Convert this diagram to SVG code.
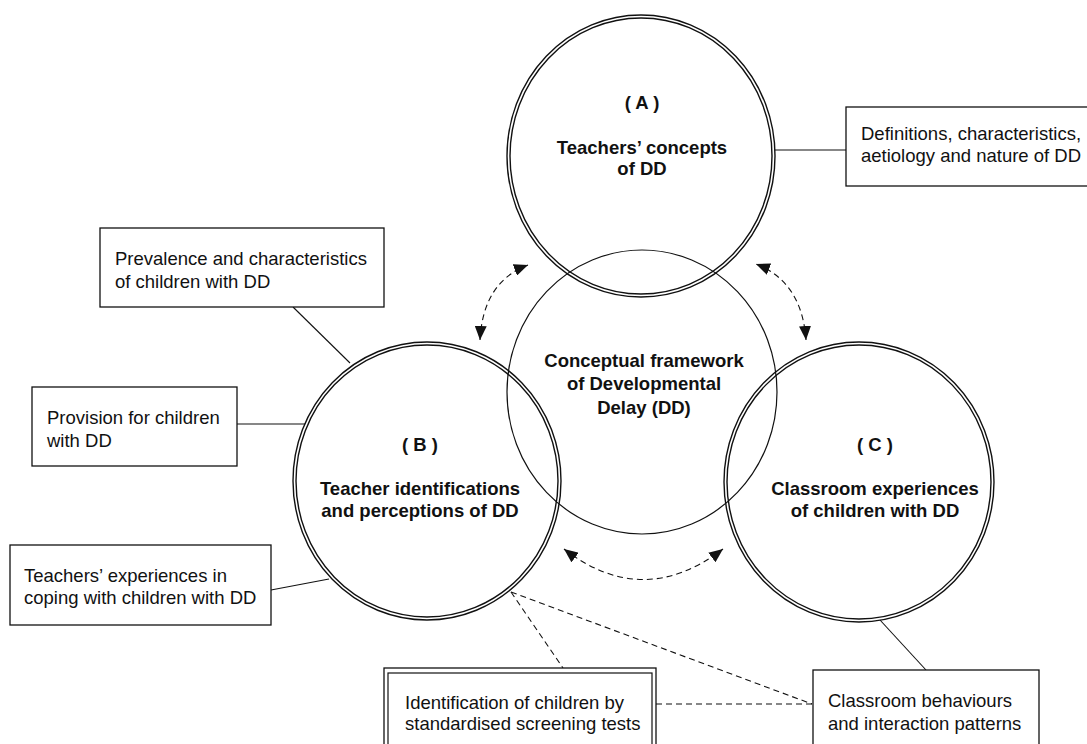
<svg xmlns="http://www.w3.org/2000/svg" width="1087" height="744" viewBox="0 0 1087 744">
<style>
.ring{fill:none;stroke:#111;stroke-width:1.4}
.thin{fill:none;stroke:#111;stroke-width:1.2}
.box{fill:#fff;stroke:#111;stroke-width:1.3}
.ln{fill:none;stroke:#111;stroke-width:1.1}
.dash{fill:none;stroke:#111;stroke-width:1.1;stroke-dasharray:6 4}
.b{font-family:"Liberation Sans",Arial,sans-serif;font-weight:bold;font-size:18.5px;fill:#111;text-anchor:middle}
.r{font-family:"Liberation Sans",Arial,sans-serif;font-size:18.5px;fill:#111}
</style>
<defs>
<marker id="ah" viewBox="0 0 14 12" refX="14" refY="6" markerWidth="14" markerHeight="12" markerUnits="userSpaceOnUse" orient="auto-start-reverse">
<path d="M0,0 L14,6 L0,12 z" fill="#111"/>
</marker>
</defs>
<rect width="1087" height="744" fill="#fff"/>
<g id="connectors">
<line class="ln" x1="775" y1="150" x2="846" y2="150"/>
<line class="ln" x1="293" y1="307" x2="350" y2="363"/>
<line class="ln" x1="237" y1="424" x2="305" y2="424"/>
<line class="ln" x1="271" y1="590" x2="329" y2="579"/>
<line class="ln" x1="880" y1="620" x2="926" y2="670"/>
<line class="dash" x1="511" y1="592" x2="563" y2="668"/>
<line class="dash" x1="511" y1="592" x2="812" y2="704"/>
<line class="dash" x1="656" y1="704" x2="813" y2="704"/>
<path class="dash" d="M480,340 Q483,282 528,265" marker-start="url(#ah)" marker-end="url(#ah)"/>
<path class="dash" d="M806,340 Q802,282 756,264" marker-start="url(#ah)" marker-end="url(#ah)"/>
<path class="dash" d="M564,549 Q643,610 723,549" marker-start="url(#ah)" marker-end="url(#ah)"/>
</g>
<g id="center">
<ellipse class="thin" cx="642" cy="392" rx="135" ry="142"/>
<text class="b" x="644" y="366.5">Conceptual framework</text>
<text class="b" x="644" y="390">of Developmental</text>
<text class="b" x="644" y="413.5">Delay (DD)</text>
</g>
<g id="circleA">
<ellipse class="ring" cx="641" cy="156" rx="134" ry="141"/>
<ellipse class="ring" cx="641" cy="156" rx="131" ry="138"/>
<text class="b" x="642" y="108.5">( A )</text>
<text class="b" x="642" y="153.5">Teachers’ concepts</text>
<text class="b" x="642" y="174.5">of DD</text>
</g>
<g id="circleB">
<ellipse class="ring" cx="427" cy="481" rx="134" ry="139"/>
<ellipse class="ring" cx="427" cy="481" rx="131" ry="136"/>
<text class="b" x="420" y="450.5">( B )</text>
<text class="b" x="420" y="494.5">Teacher identifications</text>
<text class="b" x="420" y="516.5">and perceptions of DD</text>
</g>
<g id="circleC">
<ellipse class="ring" cx="859" cy="482" rx="135" ry="140"/>
<ellipse class="ring" cx="859" cy="482" rx="132" ry="137"/>
<text class="b" x="875" y="450.5">( C )</text>
<text class="b" x="875" y="494.5">Classroom experiences</text>
<text class="b" x="875" y="516.5">of children with DD</text>
</g>
<g id="boxDefinitions">
<rect class="box" x="846" y="107" width="250" height="79"/>
<text class="r" x="861" y="139.5">Definitions, characteristics,</text>
<text class="r" x="861" y="161.5">aetiology and nature of DD</text>
</g>
<g id="boxPrevalence">
<rect class="box" x="100" y="228" width="284" height="79"/>
<text class="r" x="115" y="264.5">Prevalence and characteristics</text>
<text class="r" x="115" y="287.5">of children with DD</text>
</g>
<g id="boxProvision">
<rect class="box" x="32" y="387" width="205" height="79"/>
<text class="r" x="47" y="423.5">Provision for children</text>
<text class="r" x="47" y="446.5">with DD</text>
</g>
<g id="boxExperiences">
<rect class="box" x="10" y="545" width="261" height="80"/>
<text class="r" x="24" y="581.5">Teachers’ experiences in</text>
<text class="r" x="24" y="603.5">coping with children with DD</text>
</g>
<g id="boxIdentification">
<rect class="box" x="384" y="668" width="272" height="90"/>
<rect class="thin" x="388" y="673" width="264" height="90"/>
<text class="r" x="405" y="708.5">Identification of children by</text>
<text class="r" x="405" y="729.5">standardised screening tests</text>
</g>
<g id="boxClassroom">
<rect class="box" x="813" y="670" width="226" height="90"/>
<text class="r" x="828" y="706.5">Classroom behaviours</text>
<text class="r" x="828" y="729.5">and interaction patterns</text>
</g>
</svg>
